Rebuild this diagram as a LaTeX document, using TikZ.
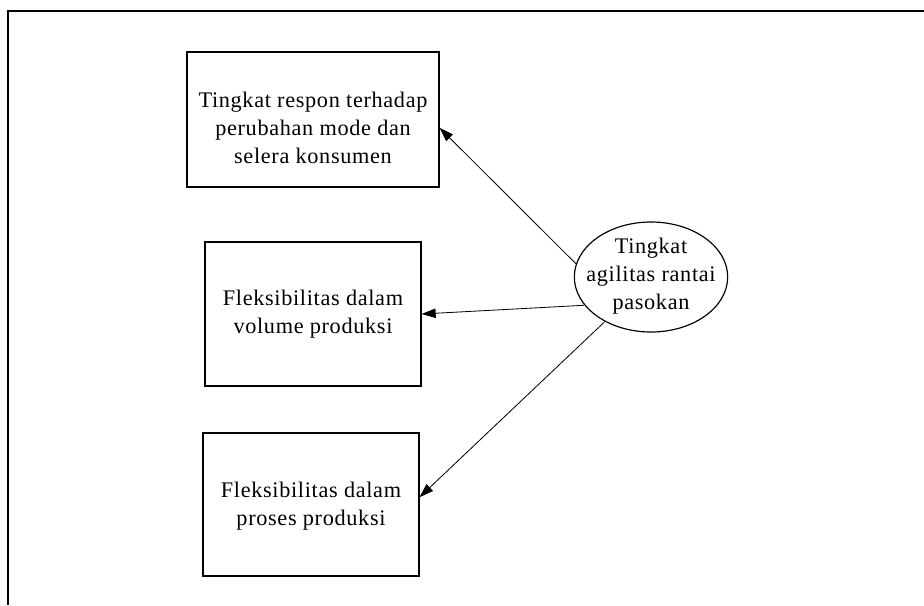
\documentclass[tikz,border=0pt]{standalone}
\usepackage{fontspec}
\setmainfont{Liberation Serif}[LetterSpace=3]
\usetikzlibrary{shapes.geometric,arrows.meta}
\begin{document}
\begin{tikzpicture}[x=0.03cm,y=-0.03cm,
  boxnode/.style={draw,line width=1pt,rectangle,inner sep=0pt},
  txt/.style={align=center,font=\fontsize{19}{24}\selectfont},
  ellnode/.style={draw,line width=1pt,ellipse,inner sep=0pt,minimum width=4.6cm,minimum height=3.3cm},
  conn/.style={line width=0.7pt,-{Triangle[length=12pt,width=8pt]}},
  frameline/.style={line width=2pt}]
\useasboundingbox (0,0) rectangle (924,605);
% outer frame (open at right and bottom)
\coordinate (fbl) at (8,605);
\coordinate (ftl) at (8,11);
\coordinate (ftr) at (924,11);
\draw[frameline] (fbl) -- (ftl) -- (ftr);
% boxes
\node[boxnode,minimum width=7.56cm,minimum height=4.05cm] (b1) at (313,119.5) {};
\node[txt] (t1) at (313,128) {Tingkat respon terhadap\\perubahan mode dan\\selera konsumen};
\node[boxnode,minimum width=6.48cm,minimum height=4.32cm] (b2) at (313,314) {};
\node[txt] (t2) at (313,314) {Fleksibilitas dalam\\volume produksi};
\node[boxnode,minimum width=6.48cm,minimum height=4.29cm] (b3) at (311,504.5) {};
\node[txt] (t3) at (311,506) {Fleksibilitas dalam\\proses produksi};
% ellipse
\node[ellnode] (e) at (651,277) {};
\node[txt] (te) at (651,276) {Tingkat\\agilitas rantai\\pasokan};
% connectors
\draw[conn] (e.170) -- ([yshift=-0.25cm]b1.east);
\draw[conn] (e.203) -- (b2.east);
\draw[conn] (e.224) -- ([yshift=0.22cm]b3.east);
\end{tikzpicture}
\end{document}
